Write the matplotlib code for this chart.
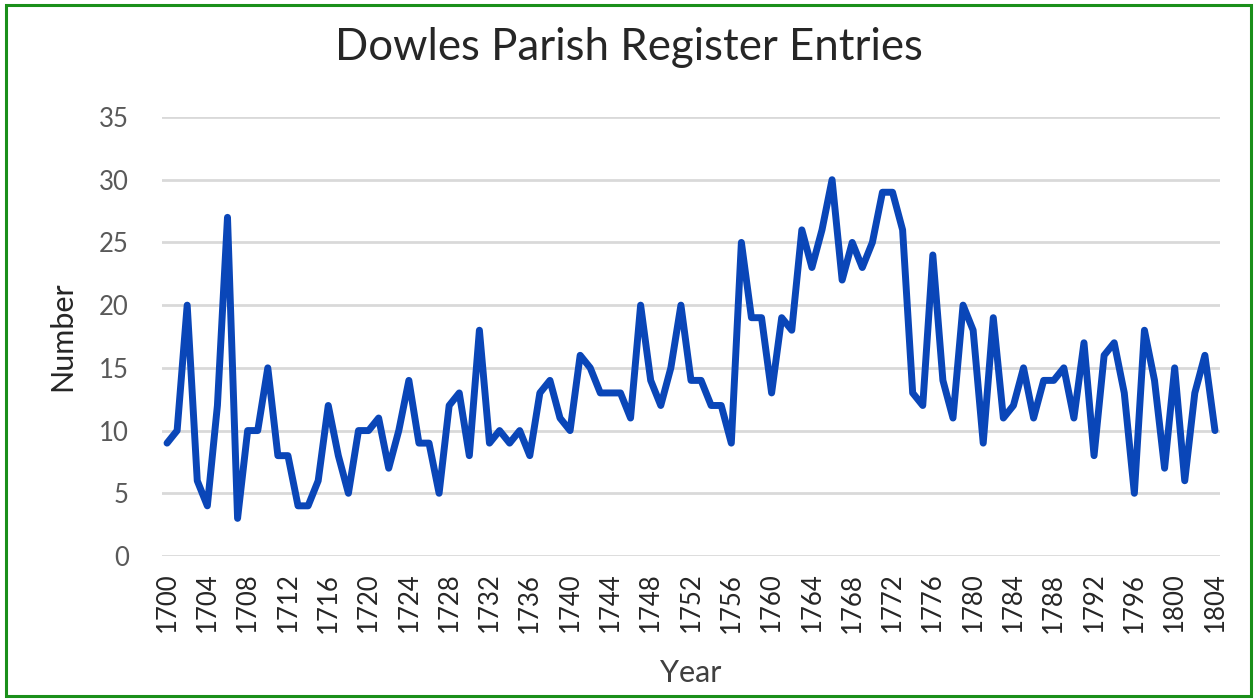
import matplotlib
matplotlib.use("Agg")
import matplotlib.pyplot as plt
from matplotlib.patches import Rectangle

plt.rcParams['font.family'] = ['Lato', 'DejaVu Sans']

years = list(range(1700, 1805))
entries = [9, 10, 20, 6, 4, 12, 27, 3, 10, 10,
           15, 8, 8, 4, 4, 6, 12, 8, 5, 10,
           10, 11, 7, 10, 14, 9, 9, 5, 12, 13,
           8, 18, 9, 10, 9, 10, 8, 13, 14, 11,
           10, 16, 15, 13, 13, 13, 11, 20, 14, 12,
           15, 20, 14, 14, 12, 12, 9, 25, 19, 19,
           13, 19, 18, 26, 23, 26, 30, 22, 25, 23,
           25, 29, 29, 26, 13, 12, 24, 14, 11, 20,
           18, 9, 19, 11, 12, 15, 11, 14, 14, 15,
           11, 17, 8, 16, 17, 13, 5, 18, 14, 7,
           15, 6, 13, 16, 10]
tick_years = list(range(1700, 1805, 4))
title = "Dowles Parish Register Entries"
x_label = "Year"
y_label = "Number"

W, H = 1257, 699
fig = plt.figure(figsize=(W / 100, H / 100), dpi=100)
fig.patch.set_facecolor("white")
ax = fig.add_axes([162 / W, (H - 556) / H, (1220 - 162) / W, (556 - 117) / H])

ax.plot(years, entries, color="#0a46b8", linewidth=5.0, solid_joinstyle="round",
        solid_capstyle="round", zorder=3)

ax.set_xlim(years[0] - 0.5, years[-1] + 0.5)
ax.set_ylim(0, 35)
ax.set_yticks(range(0, 36, 5))
ax.set_xticks(tick_years)
ax.set_xticklabels([str(y) for y in tick_years], rotation=90, fontsize=18.5,
                   color="#262626")
ax.tick_params(axis="y", labelsize=18.5, labelcolor="#595959", length=0, pad=24)
ax.tick_params(axis="x", length=0, pad=12)
ax.grid(axis="y", color="#d9d9d9", linewidth=2)
ax.set_axisbelow(True)
for s in ax.spines.values():
    s.set_visible(False)

ax.set_xlabel(x_label, fontsize=22, color="#404040", labelpad=19)
ax.set_ylabel(y_label, fontsize=22, color="#262626", labelpad=16)
fig.text(0.5, (H - 47) / H, title, ha="center", va="center",
         fontsize=31.5, color="#262626")

fig.patches.append(Rectangle((6 / W, 3 / H), (W - 12) / W, (H - 8) / H,
                             transform=fig.transFigure, fill=False,
                             edgecolor="#1a8f1a", linewidth=2.2))

fig.savefig("out.png", dpi=100, facecolor="white")
